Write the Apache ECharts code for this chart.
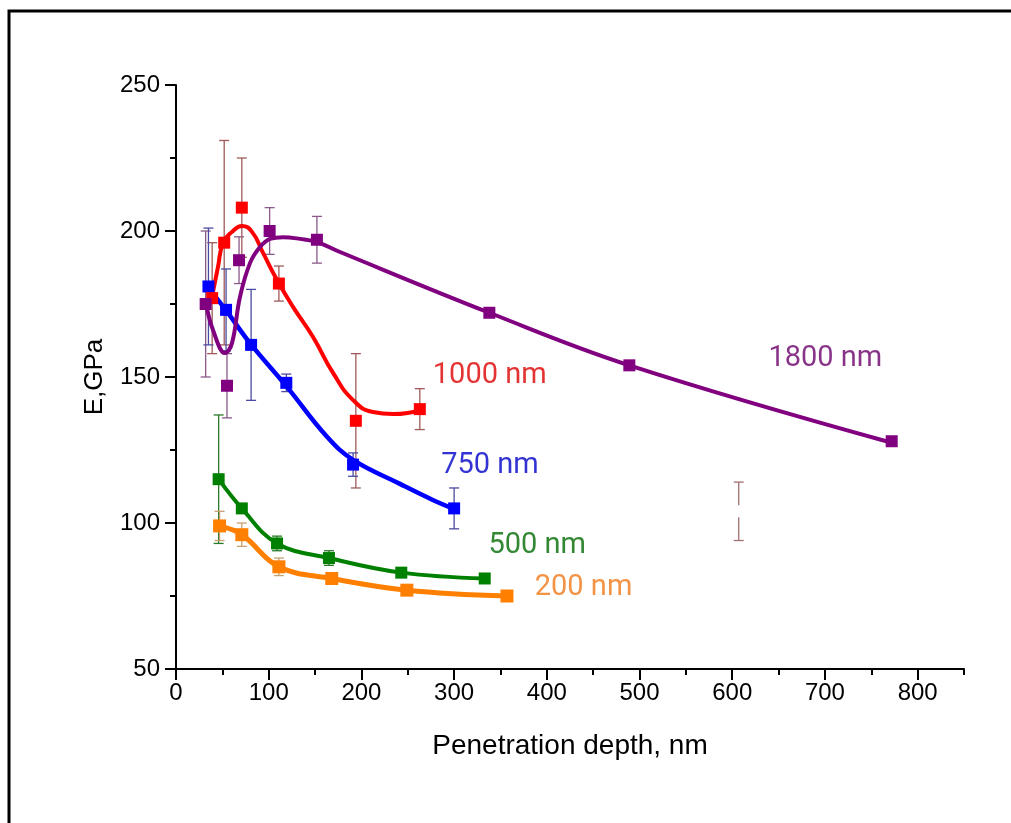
<!DOCTYPE html>
<html><head><meta charset="utf-8">
<script src="https://cdn.jsdelivr.net/npm/echarts@6/dist/echarts.min.js"></script>
<style>html,body{margin:0;padding:0;background:#fff}#c{width:1011px;height:823px}</style>
</head><body><div id="c"></div>
<script>
// ---- data ----
var orangeX = [47, 71, 111, 168, 249, 357];
var orangeY = [99, 96, 85, 81, 77, 75];
var orangeErr = [5, 4, 3, 0, 0, 0];

var greenX = [46, 71, 109, 165, 243, 333];
var greenY = [115, 105, 93, 88, 83, 81];
var greenErr = [22, 0, 2.5, 2.5, 0, 0];

var blueX = [35, 54, 81, 119, 191, 300];
var blueY = [181, 173, 161, 148, 120, 105];
var blueErr = [20, 14, 19, 3, 4, 7];

var redX = [39, 52, 71, 111, 194, 263];
var redY = [177, 196, 208, 182, 135, 139];
var redErr = [19, 35, 17, 6, 23, 7];

var purpleX = [32, 55, 68, 101, 152, 338, 489, 772];
var purpleY = [175, 147, 190, 200, 197, 172, 154, 128];
var purpleErr = [25, 11, 8, 8, 8, 0, 0, 0];

// fitted curves
var blueFitX = [34.5, 54, 79.8, 119.7, 162.9, 191, 241.6, 277, 300];
var blueFitY = [180.8, 172.8, 161.6, 146.6, 129.5, 121.6, 113.4, 107.9, 104.8];
var redFitX = [38.8, 45.3, 50.7, 60.4, 71.2, 82, 93.9, 109, 126.2, 147.8, 169.4, 191, 212.5, 234, 255.7, 263];
var redFitY = [177.4, 187.7, 195.9, 199.7, 201.7, 199.7, 192.5, 183.2, 174, 163.7, 151.4, 142.1, 138, 137.3, 138, 138.7];
var purpleFitX = [32.4, 39.9, 52.9, 60.4, 69, 79.8, 90.6, 101.4, 115.4, 133.8, 152.1, 176.9, 338, 489, 772];
var purpleFitY = [175, 166.1, 158.2, 161.6, 177.4, 189, 194.5, 197.3, 197.9, 197.3, 196.2, 192.8, 172, 154, 127.5];

// lone error bar (x, centre, half-length)
var loneX = [607];
var loneY = [104];
var loneErr = [10];

var labelText = ['1000 nm', '750 nm', '500 nm', '200 nm', '1800 nm'];
var labelX = [277, 286, 337, 387, 639];
var labelY = [150.4, 119.5, 92.2, 77.8, 156.2];
var labelColor = ['#dd0000', '#0000c8', '#006a00', '#f07818', '#6a006a'];

var xTicks = {min: 0, max: 850, labelMax: 800, interval: 100, minorInterval: 50};
var yTicks = {min: 50, max: 250, interval: 50};
// ------------------------------------

function zip(a, b, c) { return a.map(function (v, i) { return c ? [v, b[i], c[i]] : [v, b[i]]; }); }

function errSeries(xs, ys, es, color, gap) {
  return {
    type: 'custom', z: 1, silent: true,
    data: zip(xs, ys, es),
    renderItem: function (params, api) {
      var x = api.value(0), y = api.value(1), e = api.value(2);
      if (!e) return null;
      var t = api.coord([x, y + e]), b = api.coord([x, y - e]), c = 5;
      var st = {stroke: color, lineWidth: 1.3};
      var ch = [
        {type: 'line', shape: {x1: t[0] - c, y1: t[1], x2: t[0] + c, y2: t[1]}, style: st},
        {type: 'line', shape: {x1: b[0] - c, y1: b[1], x2: b[0] + c, y2: b[1]}, style: st}
      ];
      if (gap) {
        var m = api.coord([x, y]);
        ch.push({type: 'line', shape: {x1: t[0], y1: t[1], x2: t[0], y2: m[1] - 6}, style: st});
        ch.push({type: 'line', shape: {x1: b[0], y1: m[1] + 6, x2: b[0], y2: b[1]}, style: st});
      } else {
        ch.push({type: 'line', shape: {x1: t[0], y1: t[1], x2: b[0], y2: b[1]}, style: st});
      }
      return {type: 'group', children: ch};
    }
  };
}
function curve(xs, ys, color, w, sm) {
  return {type: 'line', z: 2, data: zip(xs, ys), smooth: sm, symbol: 'none',
    lineStyle: {color: color, width: w}, silent: true};
}
function marks(xs, ys, color, size) {
  return {type: 'scatter', z: 3, data: zip(xs, ys), symbol: 'rect', symbolSize: size,
    itemStyle: {color: color, opacity: 1}, silent: true};
}

var chart = echarts.init(document.getElementById('c'), null, {renderer: 'canvas'});
var blk = {color: '#000', width: 2};
var lblFont = {color: '#000', fontSize: 24, fontFamily: 'Liberation Sans'};
var gridW = 1011 - 176 - 47;
var option = {
  animation: false,
  backgroundColor: '#fff',
  grid: [
    {left: 176, right: 47, top: 85, bottom: 154, containLabel: false},
    // overlay grid spanning only 0..labelMax of the x range, for long ticks + labels
    {left: 176, right: 47 + gridW * (xTicks.max - xTicks.labelMax) / (xTicks.max - xTicks.min), top: 85, bottom: 154, containLabel: false}
  ],
  xAxis: [{
    gridIndex: 0, type: 'value', min: xTicks.min, max: xTicks.max, interval: xTicks.minorInterval,
    axisLine: {show: true, onZero: false, lineStyle: blk},
    axisTick: {show: true, length: 6, lineStyle: blk},
    axisLabel: {show: false}, splitLine: {show: false},
    name: 'Penetration depth, nm', nameLocation: 'middle', nameGap: 63,
    nameTextStyle: {color: '#000', fontSize: 28, fontFamily: 'Liberation Sans'}
  }, {
    gridIndex: 1, type: 'value', min: xTicks.min, max: xTicks.labelMax, interval: xTicks.interval,
    axisLine: {show: false, onZero: false},
    axisTick: {show: true, length: 11, lineStyle: blk},
    axisLabel: Object.assign({margin: 12}, lblFont), splitLine: {show: false}
  }],
  yAxis: [{
    gridIndex: 0, type: 'value', min: yTicks.min, max: yTicks.max, interval: yTicks.interval,
    axisLine: {show: true, onZero: false, lineStyle: blk},
    axisTick: {show: true, length: 11, lineStyle: blk},
    minorTick: {show: true, splitNumber: 2, length: 6, lineStyle: blk},
    splitLine: {show: false},
    axisLabel: Object.assign({margin: 16}, lblFont),
    name: 'E,GPa', nameLocation: 'middle', nameGap: 68, nameRotate: 90,
    nameTextStyle: {color: '#000', fontSize: 26, fontFamily: 'Liberation Sans'}
  }, {
    gridIndex: 1, type: 'value', min: yTicks.min, max: yTicks.max, show: false
  }],
  graphic: [{type: 'rect', silent: true, shape: {x: 9, y: 11, width: 1010, height: 830},
    style: {fill: 'none', stroke: '#000', lineWidth: 3}}],
  series: [
    errSeries(purpleX, purpleY, purpleErr, '#8a5a8a'),
    errSeries(redX, redY, redErr, '#a05a5a'),
    errSeries(blueX, blueY, blueErr, '#4a4aa0'),
    errSeries(greenX, greenY, greenErr, '#2a7a2a'),
    errSeries(orangeX, orangeY, orangeErr, '#c8a070'),
    errSeries(loneX, loneY, loneErr, '#a07070', true),
    curve(orangeX, orangeY, '#ff8000', 5, 0.4),
    curve(greenX, greenY, '#008000', 4, 0.4),
    curve(blueFitX, blueFitY, '#0000ff', 4.5, 0.4),
    curve(redFitX, redFitY, '#ff0000', 4, 0.5),
    curve(purpleFitX, purpleFitY, '#800080', 4, 0.4),
    marks(orangeX, orangeY, '#ff8000', 13),
    marks(greenX, greenY, '#008000', 12),
    marks(blueX, blueY, '#0000ff', 12),
    marks(redX, redY, '#ff0000', 12),
    marks(purpleX, purpleY, '#800080', 12),
    {
      type: 'scatter', z: 4, symbolSize: 0, silent: true,
      data: labelText.map(function (t, i) {
        return {value: [labelX[i], labelY[i]], name: t,
          label: {show: true, position: 'right', distance: 0, formatter: t,
            color: labelColor[i], fontSize: 29, fontFamily: 'Roboto'}};
      })
    }
  ]
};
chart.setOption(option);
</script></body></html>
